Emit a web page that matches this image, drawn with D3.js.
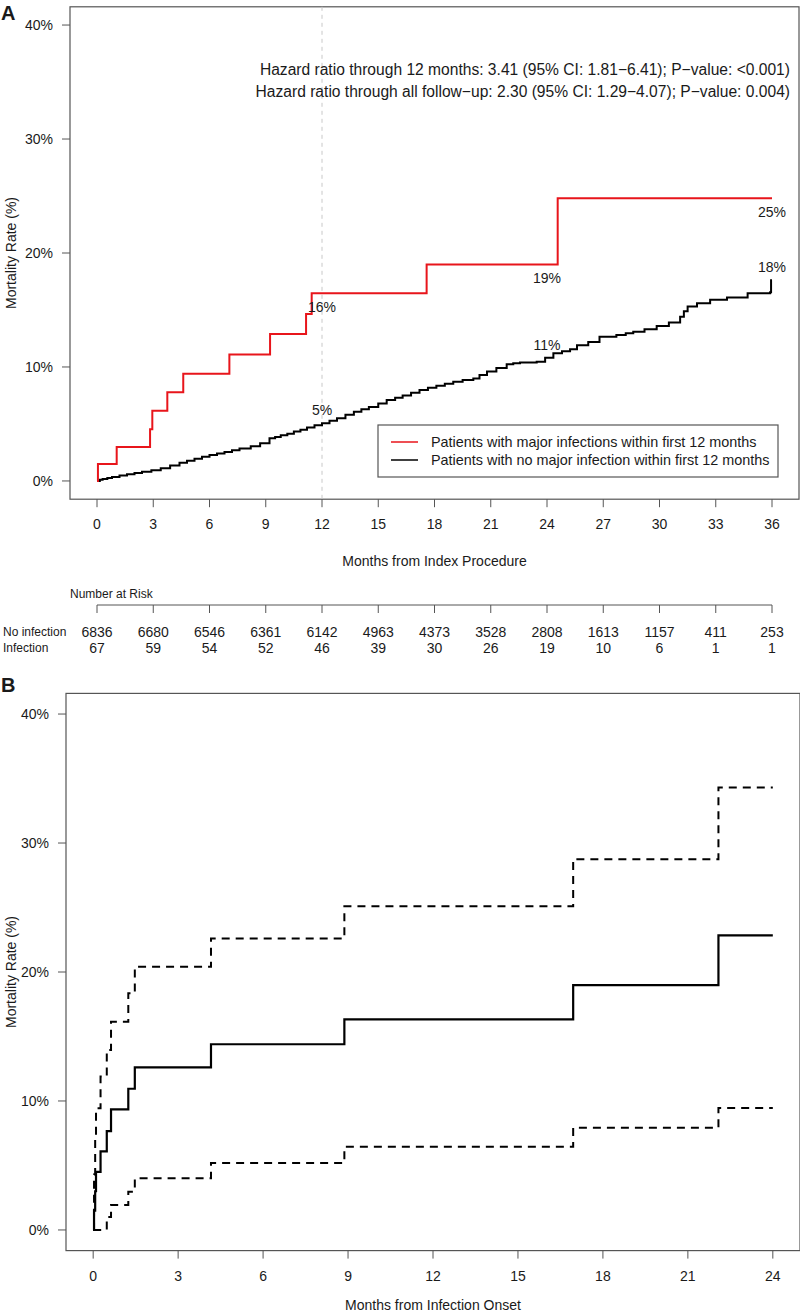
<!DOCTYPE html>
<html>
<head>
<meta charset="utf-8">
<script src="https://cdn.jsdelivr.net/npm/d3@7"></script>
<style>
  html, body { margin: 0; padding: 0; background: #fff; }
  svg text { font-family: "Liberation Sans", Arial, Helvetica, sans-serif; fill: #1a1a1a; }
</style>
</head>
<body>
<svg id="chart" width="800" height="1315"></svg>
<script>
// ---------------- DATA ----------------
// Panel A: cumulative mortality (%) by months from index procedure (step curves)
const infectionCurve = [[0,0],[0.05,1.49],[1.05,2.99],[2.83,4.53],[2.95,6.17],[3.75,7.78],[4.6,9.41],[7.06,11.1],[9.23,12.9],[11.15,14.65],[11.45,16.46],[17.58,19.0],[24.57,24.8],[36,24.8]];
const noInfectionCurve = [[0,0],[0.15,0.1],[0.3,0.18],[0.55,0.27],[0.8,0.35],[1.2,0.47],[1.6,0.59],[2.0,0.7],[2.4,0.8],[2.9,0.95],[3.4,1.11],[3.9,1.35],[4.4,1.6],[4.8,1.78],[5.2,1.95],[5.6,2.12],[6.0,2.28],[6.4,2.42],[6.8,2.55],[7.2,2.7],[7.6,2.84],[8.2,3.05],[8.7,3.3],[9.2,3.74],[9.5,3.86],[9.8,4.0],[10.15,4.15],[10.5,4.33],[10.85,4.5],[11.2,4.7],[11.6,4.88],[12.0,5.06],[12.4,5.28],[12.8,5.5],[13.25,5.8],[13.7,6.08],[14.1,6.3],[14.5,6.5],[15.0,6.8],[15.45,7.1],[15.9,7.3],[16.3,7.5],[16.75,7.75],[17.2,7.98],[17.65,8.17],[18.1,8.35],[18.55,8.53],[19.0,8.71],[19.5,8.85],[20.07,9.0],[20.4,9.3],[20.8,9.6],[21.3,9.9],[21.85,10.23],[22.2,10.33],[22.56,10.4],[23.45,10.46],[23.9,10.8],[24.34,11.2],[24.8,11.38],[25.23,11.55],[25.6,11.9],[26.2,12.2],[26.8,12.66],[27.7,12.8],[28.2,12.95],[28.6,13.1],[29.2,13.3],[29.85,13.6],[30.5,13.9],[31.1,14.4],[31.3,14.9],[31.5,15.3],[32.0,15.6],[32.7,15.9],[33.6,16.1],[34.7,16.46],[35.9,16.55],[35.95,17.6],[36,17.6]];
const labelMonths = [12, 24, 36];
const infectionLabels = ["16%", "19%", "25%"];
const noInfectionLabels = ["5%", "11%", "18%"];
const legendLabels = ["Patients with major infections within first 12 months", "Patients with no major infection within first 12 months"];
const hazardLines = [
  "Hazard ratio through 12 months: 3.41 (95% CI: 1.81\u22126.41); P\u2212value: <0.001)",
  "Hazard ratio through all follow\u2212up: 2.30 (95% CI: 1.29\u22124.07); P\u2212value: 0.004)"
];
const xTicksA = [0,3,6,9,12,15,18,21,24,27,30,33,36];
const yTicks = [0, 0.1, 0.2, 0.3, 0.4];
const riskRowNames = ["No infection", "Infection"];
const riskNoInfection = [6836,6680,6546,6361,6142,4963,4373,3528,2808,1613,1157,411,253];
const riskInfection = [67,59,54,52,46,39,30,26,19,10,6,1,1];

// Panel B: mortality after infection onset with 95% CI (step curves)
const onsetEstimate = [[0,0],[0.03,1.5],[0.07,3.0],[0.1,4.5],[0.26,6.1],[0.48,7.67],[0.63,9.35],[1.24,10.95],[1.47,12.6],[4.16,14.4],[8.87,16.33],[16.95,18.99],[22.08,22.84],[24,22.84]];
const onsetUpper = [[0,0],[0.03,4.3],[0.07,7.0],[0.1,9.43],[0.26,11.9],[0.48,13.95],[0.63,16.15],[1.24,18.35],[1.47,20.4],[4.16,22.6],[8.87,25.1],[16.95,28.75],[22.08,34.3],[24,34.3]];
const onsetLower = [[0,0],[0.48,1.0],[0.63,1.94],[1.24,2.97],[1.47,4.0],[4.16,5.2],[8.87,6.46],[16.95,7.93],[22.08,9.46],[24,9.46]];
const xTicksB = [0,3,6,9,12,15,18,21,24];

// ---------------- DRAW ----------------
const svg = d3.select("#chart");
const pct = d3.format(".0%");
const BOX = "#555";

function stepAt(curve, t) {
  let v = 0;
  for (const d of curve) { if (d[0] <= t) v = d[1]; }
  return v;
}

function panelFrame(g, x, y, xTicks, xTitle, xTitleY, tickLabelY) {
  const [x0, x1] = x.range();
  const [y0, y1] = y.range();
  g.append("rect").attr("x", x0).attr("y", y1).attr("width", x1 - x0).attr("height", y0 - y1)
    .attr("fill", "none").attr("stroke", BOX).attr("stroke-width", 1.2);
  yTicks.forEach(v => {
    g.append("line").attr("x1", x0 - 8).attr("x2", x0).attr("y1", y(v)).attr("y2", y(v)).attr("stroke", BOX);
    g.append("text").attr("x", x0 - 17).attr("y", y(v)).attr("dy", "0.35em").attr("text-anchor", "end")
      .attr("font-size", 14).text(pct(v));
  });
  xTicks.forEach(v => {
    g.append("line").attr("x1", x(v)).attr("x2", x(v)).attr("y1", y0).attr("y2", y0 + 8).attr("stroke", BOX);
    g.append("text").attr("x", x(v)).attr("y", tickLabelY).attr("dy", "0.35em").attr("text-anchor", "middle")
      .attr("font-size", 14).text(v);
  });
  g.append("text").attr("x", (x(xTicks[0]) + x(xTicks[xTicks.length - 1])) / 2).attr("y", xTitleY).attr("dy", "0.35em")
    .attr("text-anchor", "middle").attr("font-size", 14).text(xTitle);
  g.append("text").attr("transform", `translate(11,${(y0 + y1) / 2}) rotate(-90)`).attr("dy", "0.35em")
    .attr("text-anchor", "middle").attr("font-size", 14).text("Mortality Rate (%)");
}

// ----- Panel A -----
const xA = d3.scaleLinear().domain([-1.44, 37.44]).range([70, 799]);
const yA = d3.scaleLinear().domain([-0.016, 0.416]).range([499.2, 6.8]);
const gA = svg.append("g");
svg.append("text").attr("x", 1).attr("y", 20).attr("font-size", 20).attr("font-weight", "bold").text("A");
panelFrame(gA, xA, yA, xTicksA, "Months from Index Procedure", 561, 524);

gA.append("line").attr("x1", xA(12)).attr("x2", xA(12)).attr("y1", yA.range()[1]).attr("y2", yA.range()[0])
  .attr("stroke", "#c8c8c8").attr("stroke-dasharray", "4,4").attr("stroke-width", 1);

const lineA = d3.line().x(d => xA(d[0])).y(d => yA(d[1] / 100)).curve(d3.curveStepAfter);
gA.append("path").datum(noInfectionCurve).attr("d", lineA).attr("fill", "none").attr("stroke", "#000").attr("stroke-width", 2);
gA.append("path").datum(infectionCurve).attr("d", lineA).attr("fill", "none").attr("stroke", "#e8151b").attr("stroke-width", 2);

labelMonths.forEach((m, i) => {
  gA.append("text").attr("x", xA(m)).attr("y", yA(stepAt(infectionCurve, m) / 100) + 14).attr("dy", "0.35em")
    .attr("text-anchor", "middle").attr("font-size", 14).text(infectionLabels[i]);
  gA.append("text").attr("x", xA(m)).attr("y", yA(stepAt(noInfectionCurve, m) / 100) - 13).attr("dy", "0.35em")
    .attr("text-anchor", "middle").attr("font-size", 14).text(noInfectionLabels[i]);
});

hazardLines.forEach((t, i) => {
  gA.append("text").attr("x", 790).attr("y", 70 + i * 22).attr("dy", "0.35em").attr("text-anchor", "end")
    .attr("font-size", 15.6).text(t);
});

// legend
const lg = gA.append("g");
lg.append("rect").attr("x", 378).attr("y", 425).attr("width", 400).attr("height", 52)
  .attr("fill", "#fff").attr("stroke", BOX).attr("stroke-width", 1.2);
["#e8151b", "#000"].forEach((c, i) => {
  lg.append("line").attr("x1", 391).attr("x2", 418).attr("y1", 442 + i * 18).attr("y2", 442 + i * 18)
    .attr("stroke", c).attr("stroke-width", 1.5);
  lg.append("text").attr("x", 431).attr("y", 442 + i * 18).attr("dy", "0.35em").attr("font-size", 14.4).text(legendLabels[i]);
});

// number at risk
svg.append("text").attr("x", 70).attr("y", 594).attr("dy", "0.35em").attr("font-size", 12).text("Number at Risk");
svg.append("line").attr("x1", xA(0)).attr("x2", xA(36)).attr("y1", 605).attr("y2", 605).attr("stroke", BOX);
xTicksA.forEach(v => {
  svg.append("line").attr("x1", xA(v)).attr("x2", xA(v)).attr("y1", 605).attr("y2", 613).attr("stroke", BOX);
});
[riskNoInfection, riskInfection].forEach((row, r) => {
  const yy = 632 + r * 16;
  svg.append("text").attr("x", 3).attr("y", yy).attr("dy", "0.35em").attr("font-size", 12).text(riskRowNames[r]);
  row.forEach((n, i) => {
    svg.append("text").attr("x", xA(xTicksA[i])).attr("y", yy).attr("dy", "0.35em").attr("text-anchor", "middle")
      .attr("font-size", 14).text(n);
  });
});

// ----- Panel B -----
const xB = d3.scaleLinear().domain([-0.96, 24.96]).range([66, 800]);
const yB = d3.scaleLinear().domain([-0.016, 0.416]).range([1250.6, 693.4]);
const gB = svg.append("g");
svg.append("text").attr("x", 1).attr("y", 692).attr("font-size", 20).attr("font-weight", "bold").text("B");
panelFrame(gB, xB, yB, xTicksB, "Months from Infection Onset", 1305, 1276);

const lineB = d3.line().x(d => xB(d[0])).y(d => yB(d[1] / 100)).curve(d3.curveStepAfter);
[onsetUpper, onsetLower].forEach(c => {
  gB.append("path").datum(c).attr("d", lineB).attr("fill", "none").attr("stroke", "#000")
    .attr("stroke-width", 2).attr("stroke-dasharray", "8,6");
});
gB.append("path").datum(onsetEstimate).attr("d", lineB).attr("fill", "none").attr("stroke", "#000").attr("stroke-width", 2.2);
</script>
</body>
</html>
